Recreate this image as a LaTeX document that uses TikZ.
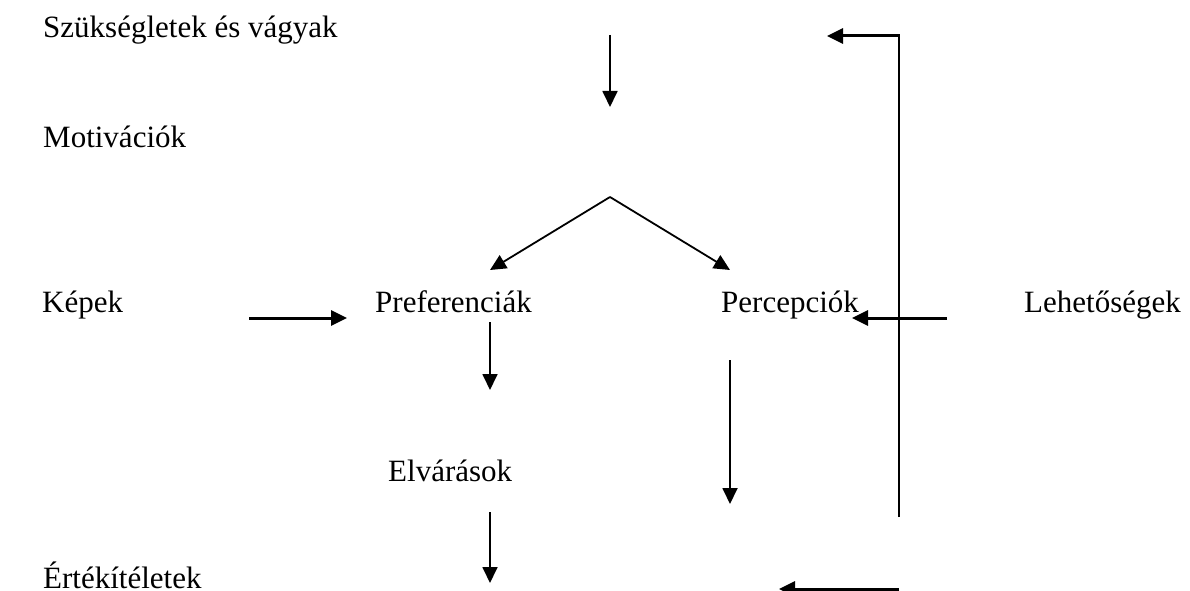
\documentclass[tikz,border=0pt]{standalone}
\usepackage{fontspec}
\setmainfont{Liberation Serif}
\usetikzlibrary{arrows.meta}
\begin{document}
\begin{tikzpicture}[x=1bp,y=-1bp,
  txt/.style={anchor=base west, inner sep=0pt, font=\fontsize{31bp}{37bp}\selectfont},
  thinarrow/.style={line width=1.8bp, -{Triangle[length=16bp,width=15bp]}},
  thickarrow/.style={line width=3bp, -{Triangle[length=16bp,width=15bp]}},
  thinline/.style={line width=1.8bp}]
% page frame
\clip (0,0) rectangle (1190,591);
\fill[white] (0,0) rectangle (1190,591);

% concepts
\node[txt] (needs)  at (43,38)   {Szükségletek és vágyak};
\node[txt] (motiv)  at (43,148)  {Motivációk};
\node[txt] (images) at (42,313)  {Képek};
\node[txt] (pref)   at (375,313) {Preferenciák};
\node[txt] (perc)   at (721,313) {Percepciók};
\node[txt] (opps)   at (1024,313) {Lehetőségek};
\node[txt] (expect) at (388,481) {Elvárások};
\node[txt] (judg)   at (43,588)  {Értékítéletek};

% arrow end points
\coordinate (a1) at (610,35);   \coordinate (a2) at (610,107);
\coordinate (apex) at (610,197);
\coordinate (vl) at (490,270);  \coordinate (vr) at (730,270);
\coordinate (k1) at (249,318);  \coordinate (k2) at (347,318);
\coordinate (l1) at (947,318);  \coordinate (l2) at (852,318);
\coordinate (p1) at (490,322);  \coordinate (p2) at (490,390);
\coordinate (q1) at (730,360);  \coordinate (q2) at (730,504);
\coordinate (e1) at (490,512);  \coordinate (e2) at (490,583);
\coordinate (fb0) at (899,517); \coordinate (fb1) at (899,36);
\coordinate (fb2) at (827,36);
\coordinate (b1) at (899,589);  \coordinate (b2) at (779,589);

% flow arrows
\draw[thinarrow] (a1) -- (a2);
\draw[thinarrow] (apex) -- (vl);
\draw[thinarrow] (apex) -- (vr);
\draw[thickarrow] (k1) -- (k2);
\draw[thickarrow] (l1) -- (l2);
\draw[thinarrow] (p1) -- (p2);
\draw[thinarrow] (q1) -- (q2);
\draw[thinarrow] (e1) -- (e2);

% feedback loop
\draw[thinline] (fb0) -- ([yshift=-1.5bp]fb1);
\draw[thickarrow] ([xshift=0.9bp]fb1) -- (fb2);
\draw[thickarrow] (b1) -- (b2);
\end{tikzpicture}
\end{document}
